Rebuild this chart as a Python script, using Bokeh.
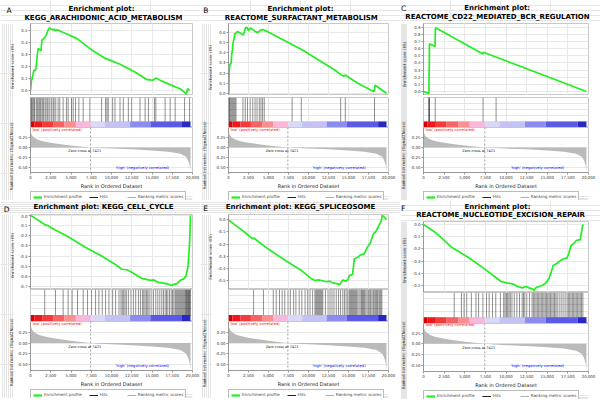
import math
from bokeh.plotting import figure
from bokeh.layouts import column, row
from bokeh.models import (Range1d, SingleIntervalTicker, FixedTicker, NumeralTickFormatter,
                          Grid, Legend, LegendItem, Span, Label, ColumnDataSource)
from bokeh.core.properties import value
from bokeh.embed import file_html
from bokeh.resources import INLINE

FONT = "DejaVu Sans"
GREEN = "#22ee22"
GRID = "#e8e8e8"
OUTLINE = "#c8c8c8"
NAN = float("nan")

# ---------------- shared ranked list ----------------
N_GENES = 19750
ZERO_CROSS = 7421
X_END = 20000

rank_pos = [0, 200, 500, 1000, 1500, 2500, 3500, 5000, 6500, 7421, 8500, 10000,
            12500, 15000, 17000, 18500, 19200, 19450, 19650, 19750]
rank_metric = [0.40, 0.30, 0.24, 0.19, 0.16, 0.12, 0.09, 0.05, 0.02, 0.0, -0.015, -0.03,
               -0.05, -0.08, -0.11, -0.16, -0.24, -0.33, -0.45, -0.60]

cbar_edges = [0, 500, 1500, 2800, 4200, 5600, 7500, 9200, 12300, 14800, 18700, 19750]
cbar_colors = ["#d80000", "#ee1a1a", "#f23c3c", "#f56464", "#f89090", "#f8b8dc",
               "#d8d8f8", "#c2c2f4", "#8c8cf0", "#5a5ae6", "#2828c4"]

legend_labels = ["Enrichment profile", "Hits", "Ranking metric scores"]

# ---------------- panel A ----------------
title_A = ["Enrichment plot:", "KEGG_ARACHIDONIC_ACID_METABOLISM"]
es_rank_A = [0, 120, 300, 420, 600, 700, 850, 950, 1150, 1300, 1400, 1600, 1850, 2000, 2150,
             2300, 2500, 2700, 2900, 3100, 3300, 3600, 4500, 5800, 7500, 9300, 9700, 11000,
             13000, 14400, 15100, 15500, 16000, 17000, 18600, 19250, 19400, 19650]
es_A = [0.0, 0.08, 0.13, 0.17, 0.165, 0.2, 0.3, 0.35, 0.34, 0.33, 0.42, 0.43, 0.45, 0.47, 0.5,
        0.52, 0.515, 0.505, 0.51, 0.5, 0.505, 0.495, 0.47, 0.43, 0.34, 0.265, 0.255, 0.22,
        0.15, 0.09, 0.085, 0.105, 0.085, 0.055, 0.01, -0.03, 0.015, 0.0]
hits_A = [20, 100, 190, 310, 430, 520, 720, 850, 1010, 1140, 1260, 1420, 1550, 1670, 1880,
          2040, 2170, 2380, 2580, 2790, 2910, 3120, 3410, 3610, 4030, 4440, 4650, 5060, 5270,
          5560, 5970, 6500, 7330, 8780, 9270, 9440, 9600, 10140, 10430, 11050, 11460, 12080,
          12490, 13520, 14150, 14560, 15300, 15470, 16620, 17240, 17860, 19020, 19640]

# ---------------- panel B ----------------
title_B = ["Enrichment plot:", "REACTOME_SURFACTANT_METABOLISM"]
es_rank_B = [0, 41, 82, 164, 328, 410, 492, 574, 697, 779, 902, 1066, 1394, 1722, 1886, 2132,
             2337, 2501, 2747, 3034, 3362, 3649, 3936, 4264, 4879, 5084, 9184, 13284, 14104,
             14432, 14596, 16154, 18204, 18327, 19750]
es_B = [0.0, 0.0, 0.21, 0.28, 0.30, 0.39, 0.43, 0.50, 0.54, 0.59, 0.59, 0.61, 0.60, 0.58, 0.58,
        0.65, 0.65, 0.62, 0.645, 0.63, 0.61, 0.60, 0.62, 0.63, 0.61, 0.60, 0.43, 0.23, 0.18,
        0.17, 0.18, 0.10, 0.016, 0.08, 0.0]
hits_B = [40, 120, 200, 330, 450, 570, 700, 820, 940, 1800, 2090, 2380, 2710, 3030, 3320,
          3570, 3850, 4060, 4260, 4470, 7950, 9100, 14020, 14600, 18250]

# ---------------- panel C ----------------
title_C = ["Enrichment plot:", "REACTOME_CD22_MEDIATED_BCR_REGULATION"]
es_rank_C = [0, 520, 660, 680, 700, 720, 800, 1200, 1400, 1440, 1520, 7200, 7260, 19750]
es_C = [0.0, -0.023, -0.025, 0.32, 0.32, 0.67, 0.665, 0.64, 0.63, 0.89, 0.888, 0.525, 0.55, 0.0]
hits_C = [640, 690, 720, 1420, 7220, 8800]

# ---------------- panel D ----------------
title_D = ["Enrichment plot: KEGG_CELL_CYCLE"]
es_rank_D = [0, 516, 1342, 1755, 2168, 2994, 4646, 6711, 8776, 10428, 11254, 11873, 12493,
             13732, 14558, 14971, 15178, 15798, 16623, 17036, 17450, 17780, 18069, 18482,
             18895, 19184, 19432, 19560, 19650, 19710, 19750]
es_D = [0.0, -0.023, -0.066, -0.09, -0.10, -0.14, -0.21, -0.31, -0.40, -0.48, -0.53, -0.535,
        -0.56, -0.62, -0.635, -0.64, -0.635, -0.66, -0.67, -0.68, -0.69, -0.675, -0.675,
        -0.64, -0.625, -0.60, -0.51, -0.38, -0.25, -0.115, 0.0]
hits_D = [1755, 3077, 4027, 4646, 5142, 5803, 6505, 7042, 7537, 8033, 8446, 8859, 9272, 9685,
          10139, 10511, 10924, 11171, 11336, 11501, 11667, 11832, 12080, 12410, 12700, 12989,
          13319, 13567, 13815, 13980, 14145, 14310, 14475, 14641, 14889, 15178, 15467, 15715,
          15963, 16210, 16417, 16623, 16789, 16954, 17160, 17367, 17532, 17697, 17862, 17986,
          18110, 18234, 18358, 18482, 18606, 18730, 18854, 18978, 19101, 19184, 19267, 19349,
          19432, 19514, 19597, 19680, 19720]

# ---------------- panel E ----------------
title_E = ["Enrichment plot: KEGG_SPLICEOSOME"]
es_rank_E = [0, 964, 1989, 3014, 3150, 4039, 5064, 7114, 9164, 10394, 10804, 11214, 11624,
             12239, 12649, 13059, 13674, 13879, 14289, 14576, 14904, 15109, 15519, 15724,
             16134, 16462, 16954, 17364, 17774, 18102, 18389, 18799, 19086, 19209, 19496, 19750]
es_E = [0.0, -0.05, -0.10, -0.157, -0.15, -0.195, -0.245, -0.335, -0.42, -0.486, -0.50,
        -0.495, -0.50, -0.51, -0.505, -0.52, -0.527, -0.535, -0.495, -0.505, -0.495, -0.46,
        -0.45, -0.32, -0.31, -0.29, -0.28, -0.225, -0.185, -0.115, -0.10, -0.047, -0.01,
        0.036, 0.022, 0.0]
hits_E = [3137, 4367, 5597, 5966, 6376, 6704, 7032, 7442, 7729, 8139, 8426, 8836, 9164, 9574,
          9902, 10189, 10517, 10804, 10927, 11050, 11173, 11296, 11419, 11542, 11665, 11788,
          12116, 12444, 12690, 12936, 13182, 13469, 13756, 14002, 14289, 14494, 14699, 14904,
          15109, 15232, 15355, 15478, 15601, 15724, 15847, 15970, 16093, 16298, 16462, 16626,
          16749, 16872, 16995, 17159, 17323, 17487, 17651, 17774, 17938, 18102, 18225, 18389,
          18512, 18635, 18799, 18922, 19045, 19168]

# ---------------- panel F ----------------
title_F = ["Enrichment plot:", "REACTOME_NUCLEOTIDE_EXCISION_REPAIR"]
es_rank_F = [0, 1400, 3400, 5400, 7400, 9400, 10200, 10800, 11400, 12000, 12400, 12800, 13200,
             13400, 13600, 14000, 14400, 14800, 15200, 15480, 15720, 16200, 16600, 17000,
             17400, 17600, 17880, 18200, 18520, 18800, 19000, 19120, 19280, 19400]
es_F = [0.0, -0.063, -0.186, -0.268, -0.363, -0.467, -0.48, -0.486, -0.508, -0.519, -0.508,
        -0.519, -0.527, -0.54, -0.519, -0.508, -0.50, -0.48, -0.445, -0.39, -0.336, -0.317,
        -0.295, -0.28, -0.273, -0.24, -0.172, -0.158, -0.131, -0.126, -0.126, -0.077,
        -0.008, 0.0]
hits_F = [3720, 4600, 4920, 5240, 5800, 6360, 6680, 7200, 7640, 7960, 8360, 8760, 9320, 9720,
          9880, 10040, 10200, 10360, 10520, 10720, 11000, 11320, 11640, 11960, 12120, 12280,
          12520, 12840, 13160, 13320, 13480, 13640, 13800, 13960, 14120, 14280, 14440, 14600,
          14760, 14920, 15080, 15240, 15400, 15560, 15720, 15880, 16040, 16200, 16440, 16680,
          16920, 17160, 17400, 17560, 17720, 17880, 18040, 18200, 18360, 18520, 18680, 18840,
          19000, 19160, 19320]

PANELS = [
    dict(tag="A", title=title_A, es_x=es_rank_A, es_y=es_A, hits=hits_A),
    dict(tag="B", title=title_B, es_x=es_rank_B, es_y=es_B, hits=hits_B),
    dict(tag="C", title=title_C, es_x=es_rank_C, es_y=es_C, hits=hits_C),
    dict(tag="D", title=title_D, es_x=es_rank_D, es_y=es_D, hits=hits_D),
    dict(tag="E", title=title_E, es_x=es_rank_E, es_y=es_E, hits=hits_E),
    dict(tag="F", title=title_F, es_x=es_rank_F, es_y=es_F, hits=hits_F),
]

# layout geometry (pixels / axis windows)
GEOM = {
    "A": dict(fl=29, fr=8, strip=14, head=23, es=72, hits=32, gap=2, rank=64, bottom=15, leg=9,
              es_rng=(-0.042, 0.558), rank_rng=(-0.64, 0.508),
              tag=(6, 10), tl=[(101, 8), (103, 17)], es_lab=(12.3, 43), rk_lab=(10.8, 133)),
    "B": dict(fl=26, fr=12, strip=12, head=23, es=72, hits=32, gap=2, rank=64, bottom=15, leg=9,
              es_rng=(-0.022, 0.69), rank_rng=(-0.64, 0.508),
              tag=(2.7, 10), tl=[(100, 8), (100.8, 17)], es_lab=(10.3, 44), rk_lab=(3.5, 132)),
    "C": dict(fl=22, fr=12, strip=7, head=23, es=72, hits=32, gap=2, rank=64, bottom=15, leg=9,
              es_rng=(-0.056, 0.952), rank_rng=(-0.64, 0.508),
              tag=(0.5, 8), tl=[(96.7, 7), (97, 16)], es_lab=(4, 41), rk_lab=(3.3, 132)),
    "D": dict(fl=29, fr=8, strip=14, head=14, es=75, hits=32, gap=0, rank=68, bottom=16, leg=9,
              es_rng=(-0.73, 0.01), rank_rng=(-0.63, 0.494),
              tag=(3.3, 8.5), tl=[(103, 6)], es_lab=(12.3, 41), rk_lab=(10.8, 138)),
    "E": dict(fl=26, fr=12, strip=12, head=14, es=75, hits=32, gap=0, rank=68, bottom=16, leg=9,
              es_rng=(-0.574, 0.044), rank_rng=(-0.63, 0.494),
              tag=(2.7, 8), tl=[(100, 6)], es_lab=(9.8, 42.5), rk_lab=(3.5, 139)),
    "F": dict(fl=22, fr=12, strip=7, head=21, es=71, hits=31, gap=0, rank=67, bottom=16, leg=9,
              es_rng=(-0.557, 0.025), rank_rng=(-0.648, 0.477),
              tag=(0.5, 8), tl=[(97, 6), (100, 14)], es_lab=(4, 39), rk_lab=(3.3, 134)),
}

W = 200


def base_fig(**kw):
    return figure(toolbar_location=None, output_backend="svg",
                  background_fill_color="white", border_fill_color="white", **kw)


def style_axis(ax):
    ax.major_label_text_font = FONT
    ax.major_label_text_font_size = "3.9px"
    ax.major_label_text_color = "#333333"
    ax.major_tick_out = 2
    ax.major_tick_in = 0
    ax.minor_tick_out = 0
    ax.minor_tick_in = 0
    ax.major_label_standoff = 1
    ax.axis_line_color = "#999999"
    ax.major_tick_line_color = "#999999"
    ax.axis_label_text_font = FONT
    ax.axis_label_text_font_size = "5px"
    ax.axis_label_text_font_style = "normal"
    ax.axis_label_text_color = "#222222"
    ax.axis_label_standoff = 2


def make_panel(d, g):
    s = g["strip"]
    xr = Range1d(0, X_END)

    # header: panel letter + title
    hd = base_fig(width=W, height=g["head"], x_range=Range1d(0, W), y_range=Range1d(g["head"], 0),
                  x_axis_location=None, y_axis_location=None, min_border=0,
                  outline_line_color=None)
    hd.text(x=[g["tag"][0]], y=[g["tag"][1]], text=[d["tag"]], text_font=value(FONT),
            text_font_size="7.5px", text_align="left", text_baseline="middle", text_color="black")
    hd.text(x=[p[0] for p in g["tl"]], y=[p[1] for p in g["tl"]], text=d["title"],
            text_font=value(FONT), text_font_size="7px", text_font_style="bold",
            text_align="center", text_baseline="middle", text_color="black")

    body_h = g["es"] + g["hits"] + g["rank"] + g["leg"]
    # strip with rotated axis titles
    st = base_fig(width=s, height=body_h, x_range=Range1d(0, s), y_range=Range1d(body_h, 0),
                  x_axis_location=None, y_axis_location=None, min_border=0,
                  outline_line_color=None)
    st.text(x=[g["es_lab"][0], g["rk_lab"][0]], y=[g["es_lab"][1], g["rk_lab"][1]],
            text=["Enrichment score (ES)", "Ranked list metric (Signal2Noise)"],
            angle=math.pi / 2, text_font=value(FONT), text_font_size="4.1px",
            text_align="center", text_baseline="middle", text_color="#222222")

    # enrichment score plot
    es = base_fig(width=W - s, height=g["es"], x_range=xr, y_range=Range1d(*g["es_rng"]),
                  x_axis_location=None, min_border_left=g["fl"] - s, min_border_right=g["fr"],
                  min_border_top=0, min_border_bottom=0, outline_line_color=OUTLINE)
    style_axis(es.yaxis[0])
    es.yaxis[0].ticker = SingleIntervalTicker(interval=0.1)
    es.yaxis[0].formatter = NumeralTickFormatter(format="0.0")
    es.ygrid.grid_line_color = GRID
    es.add_layout(Grid(dimension=0, ticker=SingleIntervalTicker(interval=2500),
                       grid_line_color=GRID))
    es.line(d["es_x"], d["es_y"], line_color=GREEN, line_width=1.7)

    # hits + colour bar
    hf = base_fig(width=W - s, height=g["hits"], x_range=xr, y_range=Range1d(0, 1),
                  x_axis_location=None, y_axis_location=None, min_border_left=g["fl"] - s,
                  min_border_right=g["fr"], min_border_top=g["gap"], min_border_bottom=0,
                  outline_line_color=OUTLINE)
    hf.quad(left=cbar_edges[:-1], right=cbar_edges[1:], bottom=0, top=0.2,
            fill_color=cbar_colors, line_color=None)
    hf.segment(x0=d["hits"], y0=0.2, x1=d["hits"], y1=1, line_color="black",
               line_width=0.8, line_alpha=0.55)

    # ranked list metric
    rf = base_fig(width=W - s, height=g["rank"], x_range=xr, y_range=Range1d(*g["rank_rng"]),
                  min_border_left=g["fl"] - s, min_border_right=g["fr"], min_border_top=0,
                  min_border_bottom=g["bottom"], outline_line_color=OUTLINE)
    xa = rf.xaxis[0]
    style_axis(xa)
    xa.ticker = SingleIntervalTicker(interval=2500)
    xa.formatter = NumeralTickFormatter(format="0,0")
    xa.axis_label = "Rank in Ordered Dataset"
    xa.axis_label_standoff = 1
    ya = rf.yaxis[0]
    style_axis(ya)
    ya.ticker = FixedTicker(ticks=[-0.5, -0.25, 0, 0.25])
    ya.formatter = NumeralTickFormatter(format="0.00")
    rf.xgrid.grid_line_color = None
    rf.ygrid.grid_line_color = GRID
    src = ColumnDataSource(dict(x=rank_pos, y=rank_metric))
    rf.varea(x="x", y1=0, y2="y", source=src, fill_color="#bababa")
    rf.add_layout(Span(location=ZERO_CROSS, dimension="height", line_color="#888888",
                       line_dash="2 2", line_width=0.8))
    rf.add_layout(Label(x=150, y=0.40, text="'low' (positively correlated)", text_color="red",
                        text_font=FONT, text_font_size="3.7px", text_baseline="bottom"))
    rf.add_layout(Label(x=6700, y=-0.09, text="Zero cross at %d" % ZERO_CROSS,
                        text_color="#222222", text_font=FONT, text_font_size="3.5px",
                        text_align="center", text_baseline="middle"))
    rf.add_layout(Label(x=13800, y=-0.52, text="'high' (negatively correlated)",
                        text_color="blue", text_font=FONT, text_font_size="3.7px",
                        text_align="center", text_baseline="middle"))

    # legend strip (renderers hold a single NaN point, so only their legend glyph shows)
    lf = base_fig(width=W - s, height=g["leg"], x_range=Range1d(0, 1), y_range=Range1d(0, 1),
                  x_axis_location=None, y_axis_location=None, min_border_left=g["fl"] - s,
                  min_border_right=g["fr"], min_border_top=0, min_border_bottom=0,
                  outline_line_color=None)
    l_es = lf.line(x=[NAN], y=[NAN], line_color=GREEN, line_width=2.2)
    l_hit = lf.line(x=[NAN], y=[NAN], line_color="#222222", line_width=1)
    l_rk = lf.line(x=[NAN], y=[NAN], line_color="#b0b0b0", line_width=1)
    leg = Legend(items=[LegendItem(label=legend_labels[0], renderers=[l_es]),
                        LegendItem(label=legend_labels[1], renderers=[l_hit]),
                        LegendItem(label=legend_labels[2], renderers=[l_rk])],
                 orientation="horizontal", location="top_left",
                 label_text_font=FONT, label_text_font_size="4.1px", label_height=4,
                 glyph_height=4, glyph_width=9, label_standoff=2, spacing=7, padding=2,
                 margin=0, border_line_color="#777777", border_line_width=0.8,
                 background_fill_color="white")
    lf.add_layout(leg)

    return column(hd, row(st, column(es, hf, rf, lf)))


panels = [make_panel(d, GEOM[d["tag"]]) for d in PANELS]
root = column(row(*panels[:3]), row(*panels[3:]))

open("out.html", "w").write(file_html(root, INLINE))
